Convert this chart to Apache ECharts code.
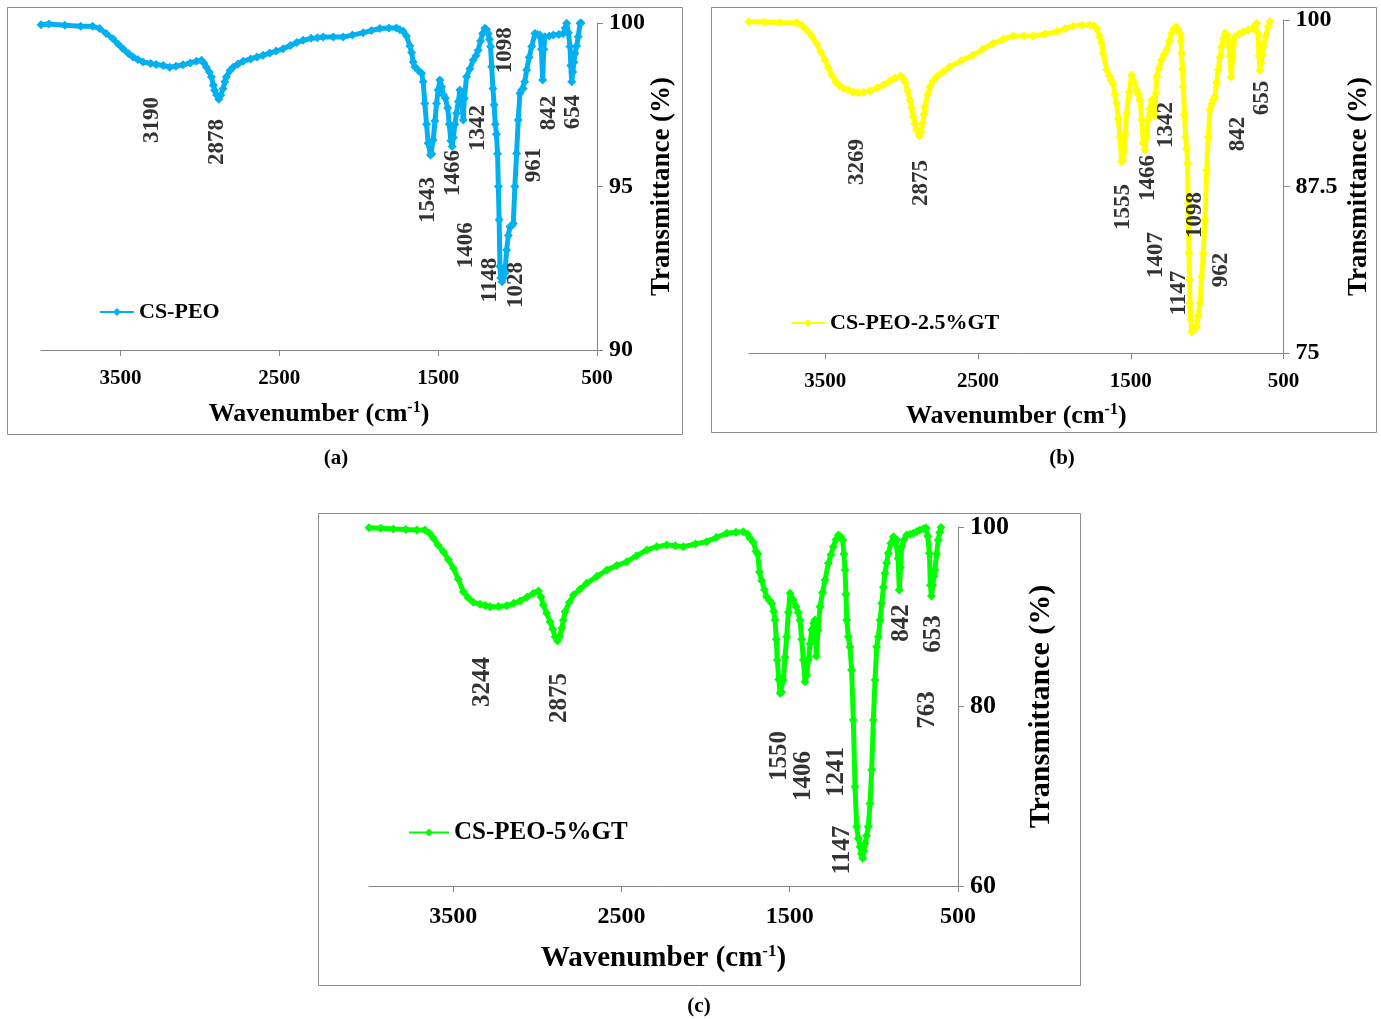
<!DOCTYPE html>
<html>
<head>
<meta charset="utf-8">
<script src="https://cdn.jsdelivr.net/npm/echarts@6/dist/echarts.min.js"></script>
<style>
html,body{margin:0;padding:0;background:#fff;}
#chart{width:1381px;height:1019px;}
</style>
</head>
<body>
<div id="chart"></div>
<script>
// ---------- DATA ----------
const seriesNames = ['CS-PEO', 'CS-PEO-2.5%GT', 'CS-PEO-5%GT'];
const xTicks = [500, 1500, 2500, 3500];

// (a) CS-PEO
const wnA = [4000,3950,3850,3750,3675,3631,3590,3547,3515,3484,3450,3421,3390,3358,3310,3274,3230,3190,3150,3106,3060,3022,2990,2975,2959,2940,2927,2915,2907,2895,2881,2868,2854,2843,2833,2810,2791,2760,2728,2680,2640,2602,2560,2520,2476,2430,2390,2350,2300,2260,2224,2160,2098,2040,1972,1920,1867,1810,1762,1741,1720,1699,1678,1667,1657,1647,1625,1604,1594,1584,1573,1563,1548,1540,1531,1520,1510,1500,1489,1478,1466,1455,1440,1430,1420,1412,1404,1395,1384,1373,1363,1352,1342,1335,1321,1300,1279,1262,1248,1233,1220,1206,1195,1185,1177,1170,1163,1155,1148,1140,1133,1126,1121,1116,1111,1105,1098,1088,1080,1069,1058,1048,1037,1027,1017,1006,996,985,975,964,955,943,927,911,891,875,859,850,842,835,828,800,775,740,712,700,691,680,670,665,659,652,645,639,628,618,607,600];
const tA  = [99.95,99.97,99.93,99.9,99.9,99.83,99.68,99.52,99.36,99.21,99.07,98.96,98.88,98.81,98.76,98.73,98.7,98.65,98.68,98.72,98.78,98.83,98.86,98.78,98.65,98.5,98.35,98.1,97.94,97.8,97.67,97.8,97.99,98.2,98.35,98.55,98.65,98.75,98.83,98.9,98.96,99.01,99.08,99.14,99.21,99.31,99.4,99.47,99.53,99.55,99.57,99.57,99.57,99.63,99.7,99.77,99.83,99.85,99.85,99.79,99.75,99.6,99.3,99.1,98.81,98.66,98.55,98.46,98.2,97.54,96.9,96.32,95.96,96.0,96.42,97.0,97.54,97.95,98.26,98.05,97.8,97.7,97.4,96.9,96.4,96.22,96.5,96.9,97.24,97.6,97.95,97.7,97.03,97.7,98.36,98.6,98.87,99.0,99.17,99.45,99.68,99.84,99.8,99.68,99.5,99.28,98.66,98.0,97.5,96.9,96.6,96.0,95.0,93.98,92.55,92.2,92.09,92.2,92.35,93.06,93.5,93.77,93.8,93.87,95.0,96.01,97.03,97.85,97.95,98.0,98.2,98.56,98.95,99.28,99.68,99.65,99.63,99.2,98.26,99.2,99.58,99.6,99.63,99.65,99.68,99.85,99.99,99.7,99.28,98.7,98.2,98.5,98.8,99.07,99.3,99.58,99.99,100.0];
const peakWnA  = [3303,2894,1565,1407,1325,1250,1174,1080,1010,897,802,651];
const peakTA   = [97.03,96.36,94.59,95.41,93.2,96.79,92.14,99.17,91.99,95.66,97.25,97.28];
const peakTxtA = ['3190','2878','1543','1466','1406','1342','1148','1098','1028','961','842','654'];

// (b) CS-PEO-2.5%GT
const wnB = [4000,3900,3800,3688,3655,3623,3590,3558,3530,3503,3480,3459,3430,3405,3380,3351,3320,3285,3250,3208,3160,3121,3080,3045,3007,2990,2979,2962,2946,2935,2925,2913,2903,2885,2874,2863,2855,2848,2830,2815,2795,2772,2730,2684,2610,2532,2470,2401,2335,2270,2200,2139,2060,1986,1930,1877,1820,1767,1740,1724,1702,1691,1680,1658,1640,1630,1615,1604,1593,1582,1571,1560,1552,1545,1536,1527,1510,1494,1478,1462,1450,1440,1428,1418,1407,1396,1386,1375,1363,1352,1342,1336,1330,1314,1298,1282,1265,1248,1232,1218,1204,1190,1178,1172,1167,1161,1156,1148,1141,1134,1128,1124,1119,1115,1112,1106,1101,1090,1080,1068,1058,1047,1036,1025,1014,1003,992,981,970,960,949,938,927,916,905,894,883,872,862,852,842,832,818,790,763,730,698,686,676,668,660,654,646,639,632,616,600,588];
const tB  = [99.87,99.85,99.82,99.8,99.6,99.25,98.8,98.25,97.6,97.0,96.4,95.87,95.35,95.05,94.85,94.74,94.6,94.54,94.58,94.67,94.9,95.12,95.4,95.62,95.8,95.6,95.37,94.7,94.0,93.4,92.74,92.2,91.74,91.29,91.6,92.24,92.9,93.49,94.4,94.99,95.4,95.74,96.1,96.5,96.95,97.37,97.8,98.25,98.55,98.8,98.8,98.8,98.95,99.12,99.35,99.55,99.6,99.62,99.55,99.37,98.75,98.25,97.5,96.25,95.8,95.5,95.2,94.4,93.75,92.6,91.24,89.36,89.5,89.99,91.5,92.99,94.6,95.87,95.3,94.74,94.4,93.99,92.5,90.74,90.24,91.3,92.49,93.3,93.99,93.7,92.8,94.5,95.74,96.4,97.0,97.4,97.75,98.4,99.0,99.3,99.5,99.3,99.0,98.4,97.5,96.3,94.99,92.9,91.24,90.3,89.24,86.24,82.49,80.5,78.73,77.5,76.6,76.7,76.8,76.97,77.8,78.73,80.73,82.49,84.98,88.74,91.24,93.24,93.7,94.0,94.24,95.3,96.25,97.2,98.0,98.6,99.0,98.9,98.5,97.3,95.74,97.3,98.75,98.95,99.12,99.25,99.37,99.6,99.75,99.0,97.3,96.2,96.8,97.4,98.0,98.8,99.5,99.87];
const peakWnB  = [3294,2874,1551,1388,1335,1270,1184,1080,909,797,640];
const peakTB   = [89.34,87.76,85.96,88.14,82.36,92.12,79.5,85.36,81.23,91.44,94.14];
const peakTxtB = ['3269','2875','1555','1466','1407','1342','1147','1098','962','842','655'];

// (c) CS-PEO-5%GT
const wnC = [4000,3930,3855,3780,3716,3667,3640,3617,3590,3558,3528,3498,3470,3439,3410,3380,3340,3310,3280,3230,3181,3140,3102,3060,3023,2993,2978,2964,2944,2924,2908,2894,2880,2867,2854,2845,2835,2810,2785,2745,2706,2645,2587,2528,2468,2410,2349,2290,2231,2180,2132,2060,1993,1935,1874,1820,1776,1750,1736,1716,1700,1690,1680,1666,1650,1637,1620,1607,1595,1587,1580,1574,1565,1557,1548,1538,1528,1518,1508,1498,1480,1462,1450,1439,1429,1419,1409,1399,1389,1379,1369,1358,1350,1342,1332,1320,1305,1290,1270,1255,1241,1225,1211,1198,1185,1178,1171,1166,1161,1152,1142,1132,1122,1112,1102,1092,1082,1074,1066,1059,1052,1043,1033,1023,1013,1003,993,983,973,963,953,943,934,924,914,899,884,872,864,856,849,842,835,820,805,785,765,745,726,705,690,680,670,664,658,650,643,637,627,617,609,601];
const tC  = [99.92,99.85,99.78,99.72,99.67,99.67,99.3,98.74,98.0,97.25,96.35,95.4,94.2,92.79,92.1,91.61,91.39,91.25,91.12,91.15,91.23,91.5,91.75,92.2,92.61,92.87,92.2,91.31,90.4,89.45,88.6,87.78,87.3,87.8,88.71,89.6,90.56,91.6,92.42,93.1,93.72,94.5,95.21,95.7,96.13,96.8,97.44,97.8,97.99,97.9,97.81,98.1,98.37,98.85,99.3,99.42,99.48,99.2,98.74,98.3,97.3,97.0,95.0,94.0,93.0,92.23,91.8,91.5,90.6,89.64,87.5,85.18,83.0,81.47,81.6,82.95,85.5,87.78,90.5,92.61,91.9,91.12,90.5,89.64,87.5,85.18,82.76,83.5,85.18,87.0,88.52,89.3,89.64,85.6,88.5,91.12,92.7,94.09,95.96,96.9,97.81,98.6,99.11,98.9,98.55,97.0,95.21,92.5,89.64,87.78,86.66,84.07,78.5,71.06,66.6,65.3,64.38,63.6,63.08,63.9,64.75,65.6,66.6,69.2,72.92,78.5,82.95,86.66,87.78,89.6,91.5,93.3,94.84,96.0,97.07,98.2,98.92,98.7,98.55,96.5,92.98,95.5,97.81,98.6,99.11,99.2,99.3,99.5,99.67,99.8,99.9,99.0,97.07,93.5,92.3,93.5,94.5,95.21,97.0,98.55,99.4,99.95];
const peakWnC  = [3328,2870,1563,1415,1219,1189,833,643,678];
const peakTC   = [82.73,80.95,74.48,72.26,72.7,64.0,89.3,88.08,79.6];
const peakTxtC = ['3244','2875','1550','1406','1241','1147','842','653','763'];

// ---------- CHART ----------
const FONT = "'Liberation Serif', 'Times New Roman', serif";
const zip = (xs, ys) => xs.map((x, i) => [x, ys[i]]);
const zip3 = (xs, ys, ts) => xs.map((x, i) => [x, ys[i], ts[i]]);

const panels = [
  {grid:{left:41, top:23, width:556, height:327}, ymin:90, ymax:100, yint:5, color:'#00B0F0',
   wn:wnA, t:tA, pw:peakWnA, pt:peakTA, ptx:peakTxtA, xfs:21, yfs:24, tfs:23, nfs:26, yNameGap:50, xNameGap:50, xMargin:18,
   legend:{left:94, top:296, fs:22, w:34}},
  {grid:{left:749, top:20, width:534.5, height:333}, ymin:75, ymax:100, yint:12.5, color:'#FFFF00',
   wn:wnB, t:tB, pw:peakWnB, pt:peakTB, ptx:peakTxtB, xfs:21, yfs:24, tfs:23, nfs:26, yNameGap:62, xNameGap:49, xMargin:18,
   legend:{left:785, top:307, fs:22, w:34}},
  {grid:{left:369, top:527, width:589, height:359}, ymin:60, ymax:100, yint:20, color:'#00FF00',
   wn:wnC, t:tC, pw:peakWnC, pt:peakTC, ptx:peakTxtC, xfs:24, yfs:26, tfs:25, nfs:29, yNameGap:68, xNameGap:57, xMargin:19,
   legend:{left:403, top:815, fs:25, w:40}}
];

const option = {
  animation:false,
  backgroundColor:'#fff',
  grid: panels.map(p => Object.assign({containLabel:false}, p.grid)),
  xAxis: panels.map((p, i) => ({
    type:'value', gridIndex:i, min:500, max:4000, inverse:true,
    axisLine:{show:true, onZero:false, lineStyle:{color:'#868686', width:1}},
    axisTick:{show:true, inside:false, length:6, customValues:xTicks, lineStyle:{color:'#868686'}},
    axisLabel:{customValues:xTicks, formatter:(v)=>String(v), fontFamily:FONT, fontWeight:'bold', fontSize:p.xfs, color:'#000', margin:p.xMargin},
    splitLine:{show:false},
    name:'Wavenumber (cm{sup|-1})', nameLocation:'middle', nameGap:p.xNameGap,
    nameTextStyle:{fontFamily:FONT, fontWeight:'bold', fontSize:p.nfs, color:'#000',
      rich:{sup:{fontFamily:FONT, fontWeight:'bold', fontSize:Math.round(p.nfs*0.6), color:'#000', verticalAlign:'top', padding:[0,0,Math.round(p.nfs*0.5),0]}}}
  })),
  yAxis: panels.map((p, i) => ({
    type:'value', gridIndex:i, position:'right', min:p.ymin, max:p.ymax, interval:p.yint,
    axisLine:{show:true, lineStyle:{color:'#868686', width:1}},
    axisTick:{show:true, inside:false, length:6, lineStyle:{color:'#868686'}},
    axisLabel:{fontFamily:FONT, fontWeight:'bold', fontSize:p.yfs, color:'#000', margin:12},
    splitLine:{show:false},
    name:'Transmittance (%)', nameLocation:'middle', nameRotate:90, nameGap:p.yNameGap,
    nameTextStyle:{fontFamily:FONT, fontWeight:'bold', fontSize:p.nfs+1, color:'#000'}
  })),
  legend: panels.map((p, i) => ({
    data:[seriesNames[i]], left:p.legend.left, top:p.legend.top, itemWidth:p.legend.w, itemHeight:10, itemGap:5,
    textStyle:{fontFamily:FONT, fontWeight:'bold', fontSize:p.legend.fs, color:'#000', padding:[0,0,0,0]},
    selectedMode:false
  })),
  series: [].concat(...panels.map((p, i) => ([
    {
      name:seriesNames[i], type:'line', xAxisIndex:i, yAxisIndex:i,
      data:zip(p.wn, p.t), symbol:'diamond', symbolSize:9, showSymbol:true,
      lineStyle:{color:p.color, width:5}, itemStyle:{color:p.color}, z:3
    },
    {
      name:'peaks'+i, type:'scatter', xAxisIndex:i, yAxisIndex:i,
      data:zip3(p.pw, p.pt, p.ptx), symbolSize:1, itemStyle:{color:'rgba(0,0,0,0)'}, silent:true, z:5,
      label:{show:true, position:'inside', rotate:90, formatter:(d)=>d.value[2],
        fontFamily:FONT, fontWeight:'bold', fontSize:p.tfs, color:'#000'}
    }
  ]))),
  graphic: [
    {type:'rect', shape:{x:7.5, y:7.5, width:675, height:427}, style:{fill:null, stroke:'#8c8c8c', lineWidth:1}, silent:true},
    {type:'rect', shape:{x:711.5, y:7.5, width:665, height:425}, style:{fill:null, stroke:'#8c8c8c', lineWidth:1}, silent:true},
    {type:'rect', shape:{x:318.5, y:513.5, width:762, height:472}, style:{fill:null, stroke:'#8c8c8c', lineWidth:1}, silent:true},
    {type:'text', x:336, y:459, style:{text:'(a)', font:"bold 21px 'Liberation Serif'", fill:'#000', textAlign:'center', textVerticalAlign:'middle'}},
    {type:'text', x:1062, y:459, style:{text:'(b)', font:"bold 21px 'Liberation Serif'", fill:'#000', textAlign:'center', textVerticalAlign:'middle'}},
    {type:'text', x:699, y:1007, style:{text:'(c)', font:"bold 21px 'Liberation Serif'", fill:'#000', textAlign:'center', textVerticalAlign:'middle'}}
  ]
};

const chart = echarts.init(document.getElementById('chart'), null, {renderer:'canvas'});
chart.setOption(option);
</script>
</body>
</html>
